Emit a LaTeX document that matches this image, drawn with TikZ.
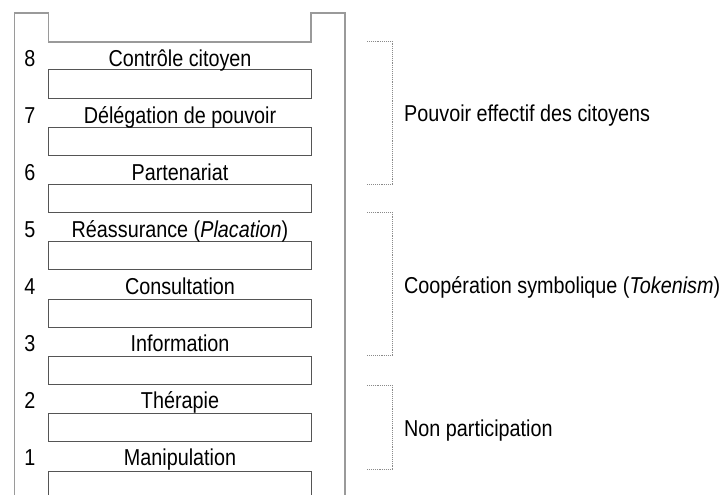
\documentclass[tikz,border=0pt]{standalone}
\usepackage{fontspec}
\setmainfont{Liberation Sans}[FakeStretch=0.86]
\definecolor{railgray}{HTML}{9A9A9A}
\definecolor{runggray}{HTML}{555555}
\definecolor{bracegray}{HTML}{8A8A8A}
\begin{document}
\begin{tikzpicture}[x=1pt,y=-1pt,
  rail/.style={draw=railgray,line width=1.6pt},
  rung/.style={draw=runggray,line width=1pt},
  brace/.style={draw=bracegray,line width=0.9pt,densely dotted},
  every node/.style={inner sep=0pt,anchor=base,font=\fontsize{23}{27}\selectfont}]
  \useasboundingbox (0,0) rectangle (723,495);

  % ladder frame
  \draw[rail] (14.5,495) -- (14.5,13) -- (48.5,13) -- (48.5,42) -- (311,42)
    -- (311,13) -- (345,13) -- (345,495);
  \foreach \k in {0,...,6}
    \draw[rung] (48.5,70+57.3*\k) rectangle ++(262.5,28);
  \draw[rung] (48.5,495) -- (48.5,471) -- (311,471) -- (311,495);

  % rungs
  \begin{scope}
    \node (n8) at (30,66.2) {8};
    \node (l8) at (180,66.2) {Contrôle citoyen};
    \node (n7) at (30,123.3) {7};
    \node (l7) at (180,123.3) {Délégation de pouvoir};
    \node (n6) at (30,180.4) {6};
    \node (l6) at (180,180.4) {Partenariat};
    \node (n5) at (30,237.5) {5};
    \node (l5) at (180,237.5) {Réassurance (\textit{Placation})};
    \node (n4) at (30,294.6) {4};
    \node (l4) at (180,294.6) {Consultation};
    \node (n3) at (30,351.7) {3};
    \node (l3) at (180,351.7) {Information};
    \node (n2) at (30,408.8) {2};
    \node (l2) at (180,408.8) {Thérapie};
    \node (n1) at (30,465.9) {1};
    \node (l1) at (180,465.9) {Manipulation};
  \end{scope}

  % groups
  \begin{scope}[every node/.append style={anchor=base west}]
    \node (pouvoir) at (404,121.7) {Pouvoir effectif des citoyens};
    \node (tokenism) at (404,293.3) {Coopération symbolique (\textit{Tokenism})};
    \node (nonpart) at (404,436.7) {Non participation};
  \end{scope}

  \draw[brace] (367,41) -- (392,41) -- (392,184) -- (367,184);
  \draw[brace] (367,212) -- (392,212) -- (392,355) -- (367,355);
  \draw[brace] (367,385) -- (392,385) -- (392,469) -- (367,469);
\end{tikzpicture}
\end{document}
